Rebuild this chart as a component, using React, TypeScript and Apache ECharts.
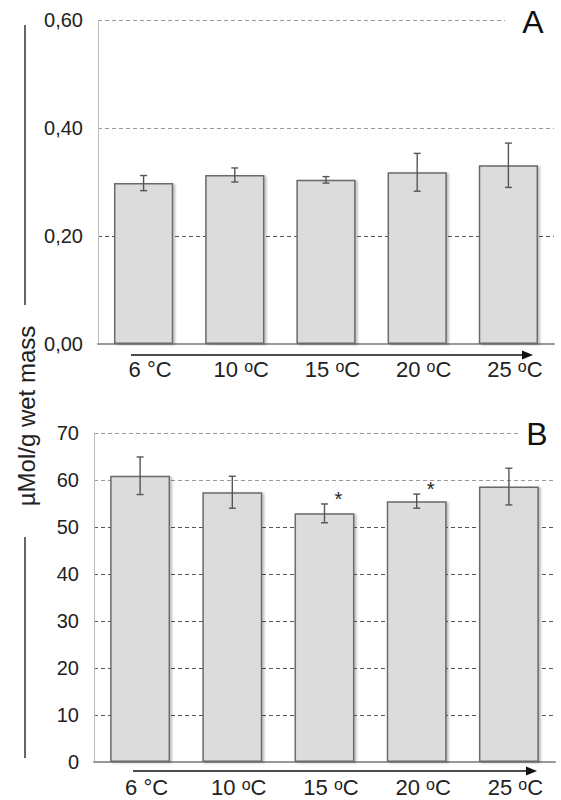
import React, { useEffect, useRef } from 'react';
import * as echarts from 'echarts';

// ---- data ----
const temperatures = ['6', '10', '15', '20', '25'];
const panelAMeans = [0.298, 0.313, 0.304, 0.318, 0.331];
const panelAErrors = [0.014, 0.013, 0.006, 0.035, 0.041];
const panelASignificance = ['', '', '', '', ''];
const panelBMeans = [60.9, 57.4, 52.9, 55.5, 58.6];
const panelBErrors = [4.0, 3.4, 2.0, 1.5, 3.9];
const panelBSignificance = ['', '', '*', '*', ''];
const panelATicks = { min: 0, max: 0.6, interval: 0.2 };
const panelBTicks = { min: 0, max: 70, interval: 10 };
const yAxisTitle = 'µMol/g wet mass';
const panelLetters = ['A', 'B'];

const FONT = '"Liberation Sans", Arial, Helvetica, sans-serif';

const makeErrorRender = (sig: string[]) => (params: any, api: any) => {
  const x = api.value(0);
  const m = api.value(1);
  const e = api.value(2);
  const top = api.coord([x, m + e]);
  const bot = api.coord([x, m - e]);
  const cap = 3.5;
  const st = { stroke: '#555', lineWidth: 1.4 };
  const children: any[] = [
    { type: 'line', shape: { x1: top[0], y1: top[1], x2: bot[0], y2: bot[1] }, style: st },
    { type: 'line', shape: { x1: top[0] - cap, y1: top[1], x2: top[0] + cap, y2: top[1] }, style: st },
    { type: 'line', shape: { x1: bot[0] - cap, y1: bot[1], x2: bot[0] + cap, y2: bot[1] }, style: st },
  ];
  const s = sig[params.dataIndex];
  if (s) {
    children.push({
      type: 'text',
      x: top[0] + 14,
      y: top[1] - 5,
      style: { text: s, fontSize: 20, fontFamily: FONT, fill: '#222', align: 'center', verticalAlign: 'middle' },
    });
  }
  return { type: 'group', children };
};

const xLabelFormatter = (v: string, i: number) => (i === 0 ? `{n|${v} °C}` : `{n|${v} }{sup|o}{n|C}`);

const xAxisCommon = (gridIndex: number, margin: number) => ({
  type: 'category' as const,
  gridIndex,
  data: temperatures,
  axisLine: { show: true, lineStyle: { color: '#999', width: 2 } },
  axisTick: { show: false },
  axisLabel: {
    interval: 0,
    formatter: xLabelFormatter,
    color: '#222',
    fontSize: 22,
    fontFamily: FONT,
    margin,
    padding: [0, 0, 0, 13],
    rich: {
      n: { fontSize: 22, lineHeight: 23, fontFamily: FONT, color: '#222' },
      sup: { fontSize: 16, lineHeight: 4, fontFamily: FONT, color: '#222', verticalAlign: 'top' },
    },
  },
});

const barSeries = (idx: number, values: number[]) => ({
  type: 'bar' as const,
  xAxisIndex: idx,
  yAxisIndex: idx,
  data: values,
  barCategoryGap: '35%',
  itemStyle: {
    color: '#dcdcdd',
    borderColor: '#6a6a6a',
    borderWidth: 1.5,
    shadowColor: 'rgba(0,0,0,0.25)',
    shadowOffsetX: 2,
    shadowOffsetY: 1,
    shadowBlur: 2,
  },
  z: 2,
});

const errSeries = (idx: number, means: number[], errs: number[], sig: string[]) => ({
  type: 'custom' as const,
  xAxisIndex: idx,
  yAxisIndex: idx,
  data: means.map((m, i) => [i, m, errs[i]]),
  encode: { x: 0, y: 1 },
  renderItem: makeErrorRender(sig),
  z: 5,
});

export default function App() {
  const ref = useRef<HTMLDivElement>(null);
  useEffect(() => {
    if (!ref.current) return;
    const chart = echarts.init(ref.current, undefined, { renderer: 'svg' });
    const arrow = (x1: number, x2: number, y: number) => [
      { type: 'line', z: 100, shape: { x1, y1: y, x2: x2 - 9, y2: y }, style: { stroke: '#111', lineWidth: 1.6 } },
      {
        type: 'polygon',
        z: 100,
        shape: { points: [[x2, y], [x2 - 11, y - 4.5], [x2 - 11, y + 4.5]] },
        style: { fill: '#111' },
      },
    ];
    chart.setOption({
      animation: false,
      backgroundColor: '#fff',
      textStyle: { fontFamily: FONT },
      grid: [
        { left: 98, top: 20, width: 456, height: 324 },
        { left: 94, top: 433, width: 461, height: 329 },
      ],
      xAxis: [xAxisCommon(0, 14), xAxisCommon(1, 14)],
      yAxis: [
        {
          type: 'value',
          gridIndex: 0,
          ...panelATicks,
          axisLine: { show: true, lineStyle: { color: '#bbb', width: 1 } },
          axisTick: { show: false },
          axisLabel: {
            color: '#222',
            fontSize: 20,
            fontFamily: FONT,
            margin: 15,
            formatter: (v: number) => v.toFixed(2).replace('.', ','),
          },
          splitLine: { show: true, lineStyle: { type: [4, 3], color: ['#999', '#555', '#999', '#999'], width: 1 } },
        },
        {
          type: 'value',
          gridIndex: 1,
          ...panelBTicks,
          axisLine: { show: true, lineStyle: { color: '#bbb', width: 1 } },
          axisTick: { show: false },
          axisLabel: { color: '#222', fontSize: 20, fontFamily: FONT, margin: 15 },
          splitLine: {
            show: true,
            lineStyle: {
              type: [4, 3],
              color: ['#777', '#555', '#555', '#555', '#555', '#555', '#999', '#999'],
              width: 1,
            },
          },
        },
      ],
      series: [
        barSeries(0, panelAMeans),
        errSeries(0, panelAMeans, panelAErrors, panelASignificance),
        barSeries(1, panelBMeans),
        errSeries(1, panelBMeans, panelBErrors, panelBSignificance),
      ],
      graphic: [
        // cover the top gridlines near the panel letters
        { type: 'rect', z: 99, shape: { x: 505, y: 14, width: 56, height: 12 }, style: { fill: '#fff' } },
        { type: 'rect', z: 99, shape: { x: 518, y: 427, width: 43, height: 12 }, style: { fill: '#fff' } },
        {
          type: 'text', z: 100, x: 533, y: 22,
          style: { text: panelLetters[0], fontSize: 32, fontFamily: FONT, fill: '#111', align: 'center', verticalAlign: 'middle' },
        },
        {
          type: 'text', z: 100, x: 537, y: 434,
          style: { text: panelLetters[1], fontSize: 32, fontFamily: FONT, fill: '#111', align: 'center', verticalAlign: 'middle' },
        },
        ...arrow(131, 533, 355),
        ...arrow(133, 537, 771),
        { type: 'line', z: 100, shape: { x1: 25, y1: 25, x2: 25, y2: 305 }, style: { stroke: '#333', lineWidth: 1.5 } },
        { type: 'line', z: 100, shape: { x1: 25, y1: 537, x2: 25, y2: 758 }, style: { stroke: '#333', lineWidth: 1.5 } },
        {
          type: 'text', z: 100, x: 26, y: 416, rotation: Math.PI / 2,
          style: { text: yAxisTitle, fontSize: 24, fontFamily: FONT, fill: '#222', align: 'center', verticalAlign: 'middle' },
        },
      ],
    });
    return () => chart.dispose();
  }, []);
  return (
    <div
      ref={ref}
      style={{ position: 'absolute', left: 0, top: 0, width: 561, height: 800, background: '#fff' }}
    />
  );
}
